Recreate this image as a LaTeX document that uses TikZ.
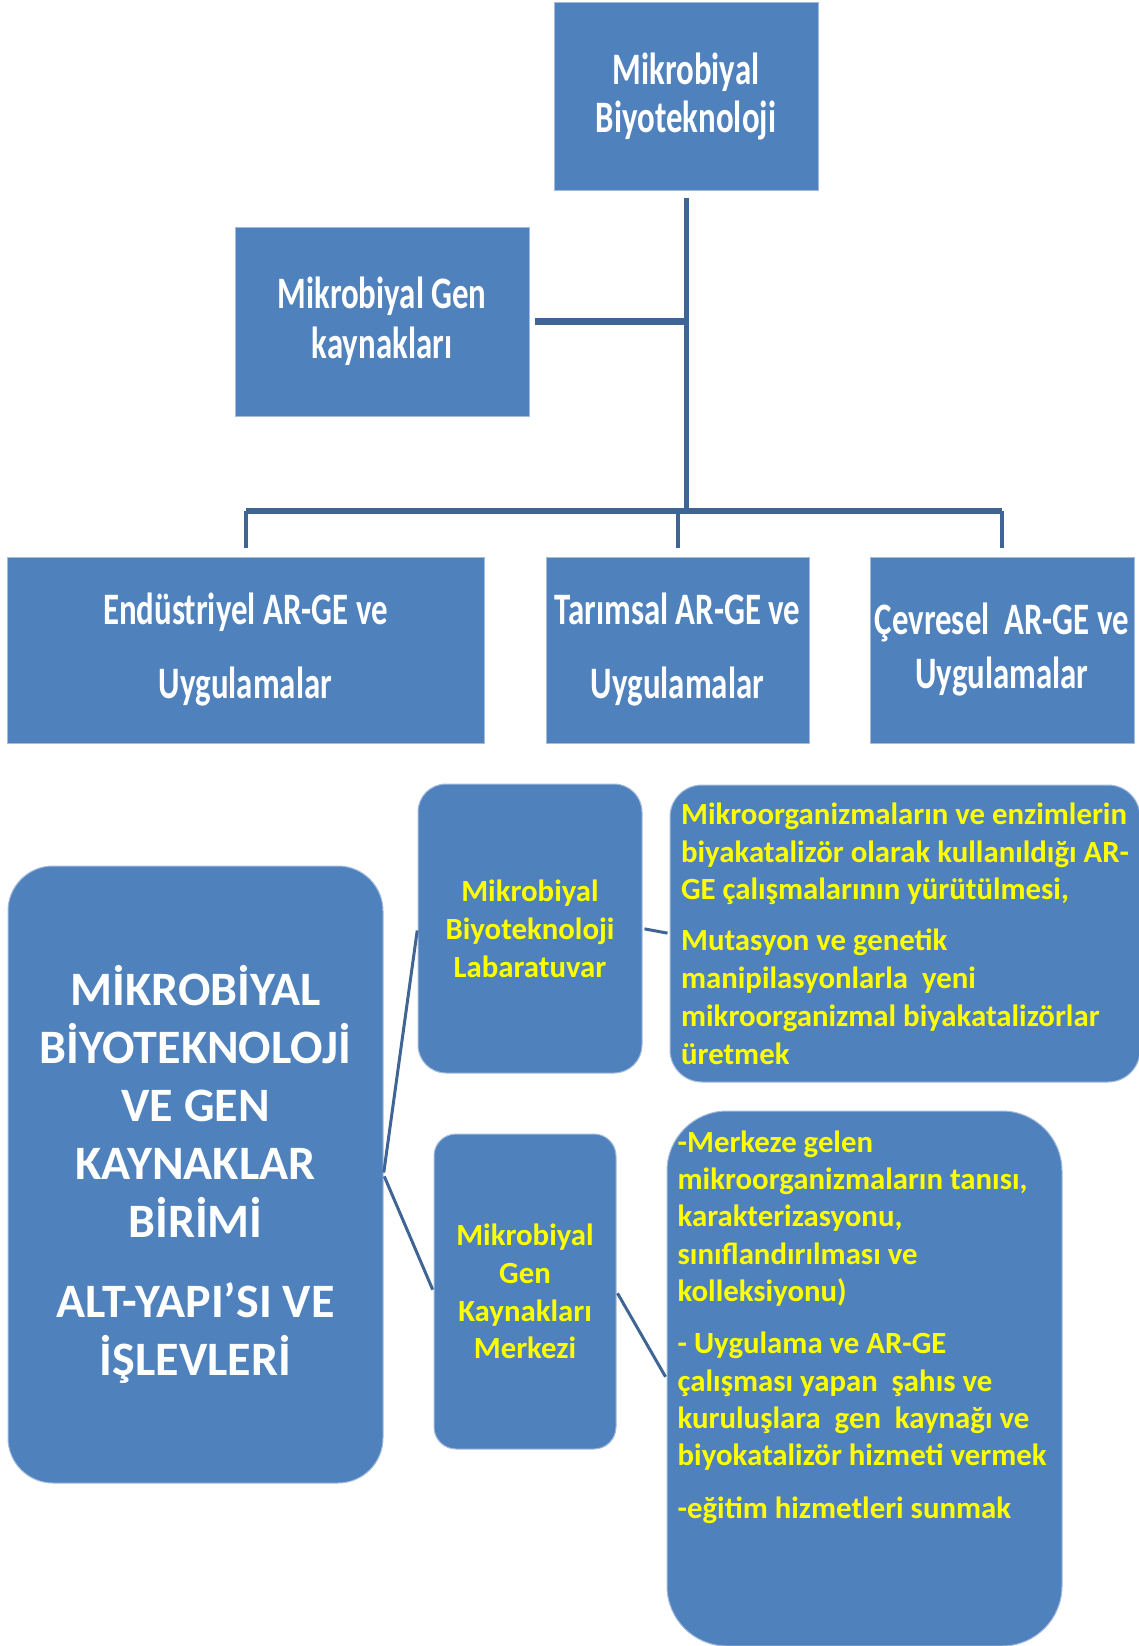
\documentclass[tikz,border=0pt]{standalone}
\usepackage{fontspec}
\setmainfont{Carlito}
\newfontfamily\condfont{Carlito}[FakeStretch=0.73]
\definecolor{boxblue}{HTML}{4F81BD}
\definecolor{linkblue}{HTML}{3E6594}
\definecolor{rimblue}{HTML}{A3BCDD}
\definecolor{txtyellow}{HTML}{FFFF00}

\begin{document}
\begin{tikzpicture}[x=1pt,y=-1pt,
	box/.style={fill=boxblue,draw=rimblue,line width=1pt,inner sep=0pt,align=center},
	head/.style={box,text=white,font=\condfont\bfseries\fontsize{45}{48}\selectfont},
	unit/.style={box,rounded corners=#1,text=txtyellow,font=\bfseries\fontsize{30.8}{37.8}\selectfont},
	trunk/.style={linkblue,line width=#1},
	twig/.style={linkblue,line width=3pt,shorten <=2pt,shorten >=2pt}]
	\useasboundingbox (0,0) rectangle (1138,1646);
	\node[head,minimum width=264pt,minimum height=187pt] (mb) at (686,96.5) {Mikrobiyal\\Biyoteknoloji};
	\node[head,minimum width=294pt,minimum height=189pt] (gk) at (382,321.5) {Mikrobiyal Gen\\[2pt]kaynakları};
	\node[head,minimum width=477pt,minimum height=186pt] (endu) at (245.5,650) {Endüstriyel AR-GE ve\\[26pt]Uygulamalar};
	\node[head,minimum width=263pt,minimum height=186pt] (tar) at (677.5,650) {Tarımsal AR-GE ve\\[26pt]Uygulamalar};
	\node[head,minimum width=264pt,minimum height=186pt] (cev) at (1002,650) {Çevresel\ \ AR-GE ve\\[6pt]Uygulamalar};
	\path (mb.south |- tar.north) ++(0,-46) coordinate (hub);
	\draw[trunk=5pt] ([yshift=-7pt]mb.south) -- (hub);
	\draw[trunk=7pt] ([xshift=5pt]gk.east) -- (gk.east -| mb.south);
	\draw[trunk=6pt] (hub -| endu.north) -- (hub -| cev.north);
	\foreach \n in {endu,tar,cev}
		\draw[trunk=4pt] (hub -| \n.north) -- ([yshift=9pt]\n.north);

	\node[unit=45pt,text=white,font=\bfseries\fontsize{48}{58}\selectfont,minimum width=375pt,minimum height=617pt] (birim) at (195.5,1174.5)
		{MİKROBİYAL\\BİYOTEKNOLOJİ\\VE GEN\\KAYNAKLAR\\BİRİMİ\\[22pt]ALT-YAPI’SI VE\\İŞLEVLERİ};
	\node[unit=28pt,minimum width=224pt,minimum height=289pt] (lab) at (530,928.5) {Mikrobiyal\\Biyoteknoloji\\Labaratuvar};
	\node[unit=32pt,align=left,minimum width=470pt,minimum height=297pt] (labt) at (905,933.5)
		{Mikroorganizmaların ve enzimlerin\\biyakatalizör olarak kullanıldığı AR-\\GE çalışmalarının yürütülmesi,\\[13pt]Mutasyon ve genetik\\manipilasyonlarla\ \ yeni\\mikroorganizmal biyakatalizörlar\\üretmek};
	\node[unit=22pt,minimum width=182pt,minimum height=315pt] (gen) at (525,1291.5) {Mikrobiyal\\Gen\\Kaynakları\\Merkezi};
	\node[unit=60pt,minimum width=395pt,minimum height=535pt] (gent) at (864.5,1378.5) {};
	\node[anchor=north west,inner sep=0pt,align=left,text=txtyellow,font=\bfseries\fontsize{30.8}{37.3}\selectfont] (gentx) at ([xshift=11pt,yshift=-20pt]gent.north west)
		{-Merkeze gelen\\mikroorganizmaların tanısı,\\karakterizasyonu,\\sınıflandırılması ve\\kolleksiyonu)\\[15pt]- Uygulama ve AR-GE\\çalışması yapan\ \ şahıs ve\\kuruluşlara\ \ gen\ \ kaynağı ve\\biyokatalizör hizmeti vermek\\[15pt]-eğitim hizmetleri sunmak};
	\draw[twig] (birim.east) -- (lab.west);
	\draw[twig] (birim.east) -- (gen.west);
	\draw[twig] (lab.east) -- (labt.west);
	\draw[twig] (gen.east) -- (gent.west);
\end{tikzpicture}
\end{document}
